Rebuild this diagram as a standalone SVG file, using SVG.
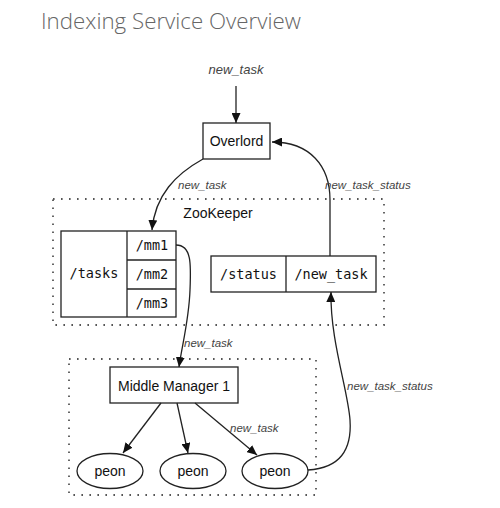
<svg xmlns="http://www.w3.org/2000/svg" width="500" height="508" viewBox="0 0 500 508">
<style>
.box{fill:#fff;stroke:#222;stroke-width:1.3}
.grp{fill:none;stroke:#555;stroke-width:1.8;stroke-dasharray:1.6 6.4}
.lbl{font-family:"Liberation Sans",Arial,sans-serif;font-size:14px;fill:#111;text-anchor:middle}
.mono{font-family:"DejaVu Sans Mono","Liberation Mono",monospace;font-size:13.5px;fill:#111;text-anchor:middle}
.edge{font-family:"Liberation Sans",Arial,sans-serif;font-size:11.5px;font-style:italic;fill:#444}
.edge.big{font-size:13px;text-anchor:middle}
.conn{fill:none;stroke:#222;stroke-width:1.3;marker-end:url(#arr)}
</style>
<defs>
<marker id="arr" markerUnits="userSpaceOnUse" markerWidth="11" markerHeight="9" refX="10" refY="4.5" orient="auto">
<path d="M0,0 L10,4.5 L0,9 z" fill="#111"/>
</marker>
</defs>
<rect width="500" height="508" fill="#fff"/>
<text x="41" y="29" font-family="'Open Sans','Liberation Sans',sans-serif" font-weight="300" font-size="22.3" fill="#666">Indexing Service Overview</text>

<g id="zookeeper">
<rect class="grp" x="53" y="199" width="331" height="126"/>
<text class="lbl" x="218" y="218">ZooKeeper</text>
</g>
<g id="mm-group">
<rect class="grp" x="69" y="359" width="247" height="136"/>
</g>

<g id="overlord">
<rect class="box" x="203" y="123" width="67" height="36"/>
<text class="lbl" x="236.5" y="146">Overlord</text>
</g>

<g id="tasks">
<rect class="box" x="61" y="231" width="115" height="86"/>
<line x1="127" y1="231" x2="127" y2="317" stroke="#222" stroke-width="1.3"/>
<line x1="127" y1="260" x2="176" y2="260" stroke="#222" stroke-width="1.3"/>
<line x1="127" y1="289" x2="176" y2="289" stroke="#222" stroke-width="1.3"/>
<text class="mono" x="94" y="278">/tasks</text>
<text class="mono" x="152" y="250">/mm1</text>
<text class="mono" x="152" y="279">/mm2</text>
<text class="mono" x="152" y="308">/mm3</text>
</g>

<g id="status">
<rect class="box" x="211" y="256" width="165" height="36"/>
<line x1="286" y1="256" x2="286" y2="292" stroke="#222" stroke-width="1.3"/>
<text class="mono" x="248.5" y="279">/status</text>
<text class="mono" x="331" y="279">/new_task</text>
</g>

<g id="middle-manager">
<rect class="box" x="110" y="367" width="128" height="36"/>
<text class="lbl" x="174" y="391">Middle Manager 1</text>
</g>

<g id="peon1">
<ellipse class="box" cx="110" cy="471" rx="33" ry="17.5"/>
<text class="lbl" x="110" y="476">peon</text>
</g>
<g id="peon2">
<ellipse class="box" cx="193" cy="471" rx="33" ry="17.5"/>
<text class="lbl" x="193" y="476">peon</text>
</g>
<g id="peon3">
<ellipse class="box" cx="275" cy="471" rx="33" ry="17.5"/>
<text class="lbl" x="275" y="476">peon</text>
</g>

<g id="connectors">
<text class="edge big" x="236" y="74">new_task</text>
<path class="conn" d="M236,86 L236,123"/>
<path class="conn" d="M203,159 C176,174 155,195 152,230"/>
<text class="edge" x="178" y="189">new_task</text>
<path class="conn" d="M330,256 L330,200 C330,166 310,142 272,142"/>
<text class="edge" x="325" y="189">new_task_status</text>
<path class="conn" d="M176,245 C192,245 191,265 190,290 C189,320 182,345 179,367"/>
<text class="edge" x="184" y="347">new_task</text>
<path class="conn" d="M161,403 L123,453"/>
<path class="conn" d="M177,403 L188,453"/>
<path class="conn" d="M195,403 L257,455"/>
<text class="edge" x="230" y="432">new_task</text>
<path class="conn" d="M308,470 C340,468 352,450 350,420 C348,390 330,340 331,292"/>
<text class="edge" x="347" y="390">new_task_status</text>
</g>
</svg>
